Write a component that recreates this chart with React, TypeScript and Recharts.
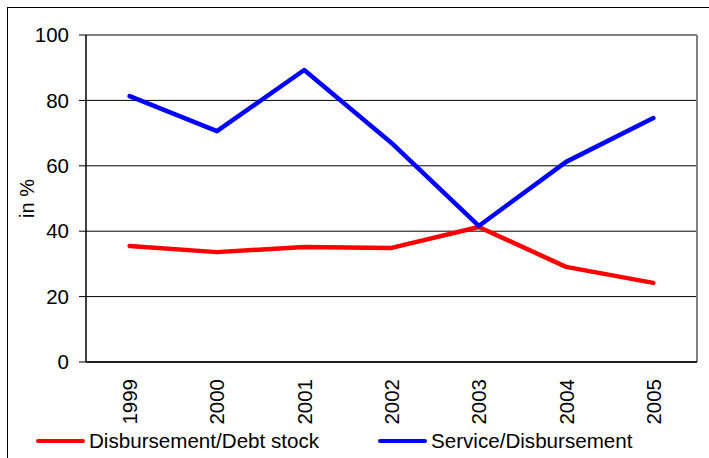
import { LineChart, Line, XAxis, YAxis, CartesianGrid, ReferenceLine } from "recharts";

const years = ["1999", "2000", "2001", "2002", "2003", "2004", "2005"];
const disbursementDebtStock = [35.5, 33.6, 35.2, 34.9, 41.3, 29.1, 24.2];
const serviceDisbursement = [81.3, 70.6, 89.3, 67.0, 41.6, 61.2, 74.6];
const yTicks = [0, 20, 40, 60, 80, 100];

const SERIES = [
  { key: "debt", name: "Disbursement/Debt stock", color: "#ff0000" },
  { key: "service", name: "Service/Disbursement", color: "#0000ff" },
];

const FONT = "'Liberation Sans', Arial, sans-serif";

const data = years.map((year, i) => ({
  pos: i,
  year,
  debt: disbursementDebtStock[i],
  service: serviceDisbursement[i],
}));

// tick marks sit between categories, labels at the centres
const boundaryTicks = [...years.map((_, i) => i - 0.5), years.length - 0.5];
const centerTicks = years.map((_, i) => i);
const domain: [number, number] = [-0.5, years.length - 0.5];

const YearTick = ({ x, y, payload }: any) => (
  <text
    x={x}
    y={y}
    transform={`rotate(-90 ${x} ${y})`}
    textAnchor="end"
    dominantBaseline="central"
    fontSize={20.5}
    fontFamily={FONT}
    fill="#000"
  >
    {years[payload.value]}
  </text>
);

export default function App() {
  return (
    <div style={{ position: "absolute", left: 0, top: 0, width: 709, height: 458, background: "#fff", overflow: "hidden" }}>
      <div
        style={{
          position: "absolute",
          left: 7,
          top: 7,
          width: 720,
          height: 470,
          borderTop: "1px solid #000",
          borderLeft: "1px solid #000",
        }}
      />
      <LineChart
        width={709}
        height={458}
        data={data}
        margin={{ top: 35, right: 12, bottom: 0, left: 26 }}
        style={{ position: "absolute", left: 0, top: 0, fontFamily: FONT }}
      >
        <CartesianGrid vertical={false} stroke="#000" strokeWidth={1} />
        <XAxis
          xAxisId={0}
          type="number"
          dataKey="pos"
          domain={domain}
          ticks={boundaryTicks}
          interval={0}
          tick={false}
          tickSize={6}
          height={8}
          axisLine={{ stroke: "#000", strokeWidth: 1.5 }}
          tickLine={{ stroke: "#000" }}
        />
        <XAxis
          xAxisId="labels"
          type="number"
          dataKey="pos"
          domain={domain}
          ticks={centerTicks}
          interval={0}
          axisLine={false}
          tickLine={false}
          tickSize={0}
          tickMargin={9}
          height={88}
          tick={<YearTick />}
        />
        <YAxis
          domain={[0, 100]}
          ticks={yTicks}
          interval={0}
          width={60}
          tickSize={7}
          tickMargin={10}
          axisLine={{ stroke: "#000", strokeWidth: 1.5 }}
          tickLine={{ stroke: "#000" }}
          tick={{ fontSize: 20.5, fill: "#000", fontFamily: FONT }}
          label={{ value: "in %", angle: -90, position: "center", dx: -29, fontSize: 20, fill: "#000", fontFamily: FONT }}
        />
        <ReferenceLine y={100} stroke="#808080" strokeWidth={2} />
        <ReferenceLine x={years.length - 0.5} xAxisId={0} stroke="#808080" strokeWidth={2} />
        {SERIES.map((s) => (
          <Line
            key={s.key}
            xAxisId={0}
            type="linear"
            dataKey={s.key}
            name={s.name}
            stroke={s.color}
            strokeWidth={4.5}
            strokeLinejoin="round"
            strokeLinecap="round"
            dot={false}
            activeDot={false}
            isAnimationActive={false}
          />
        ))}
      </LineChart>
      {SERIES.map((s, i) => (
        <div
          key={s.key}
          style={{
            position: "absolute",
            left: i === 0 ? 36 : 378,
            top: 430,
            display: "flex",
            alignItems: "center",
            fontFamily: FONT,
            fontSize: 20.6,
            lineHeight: "22px",
            color: "#000",
            whiteSpace: "nowrap",
          }}
        >
          <span style={{ display: "inline-block", width: 49, height: 4.5, background: s.color, borderRadius: 2, marginRight: 4 }} />
          {s.name}
        </div>
      ))}
    </div>
  );
}
